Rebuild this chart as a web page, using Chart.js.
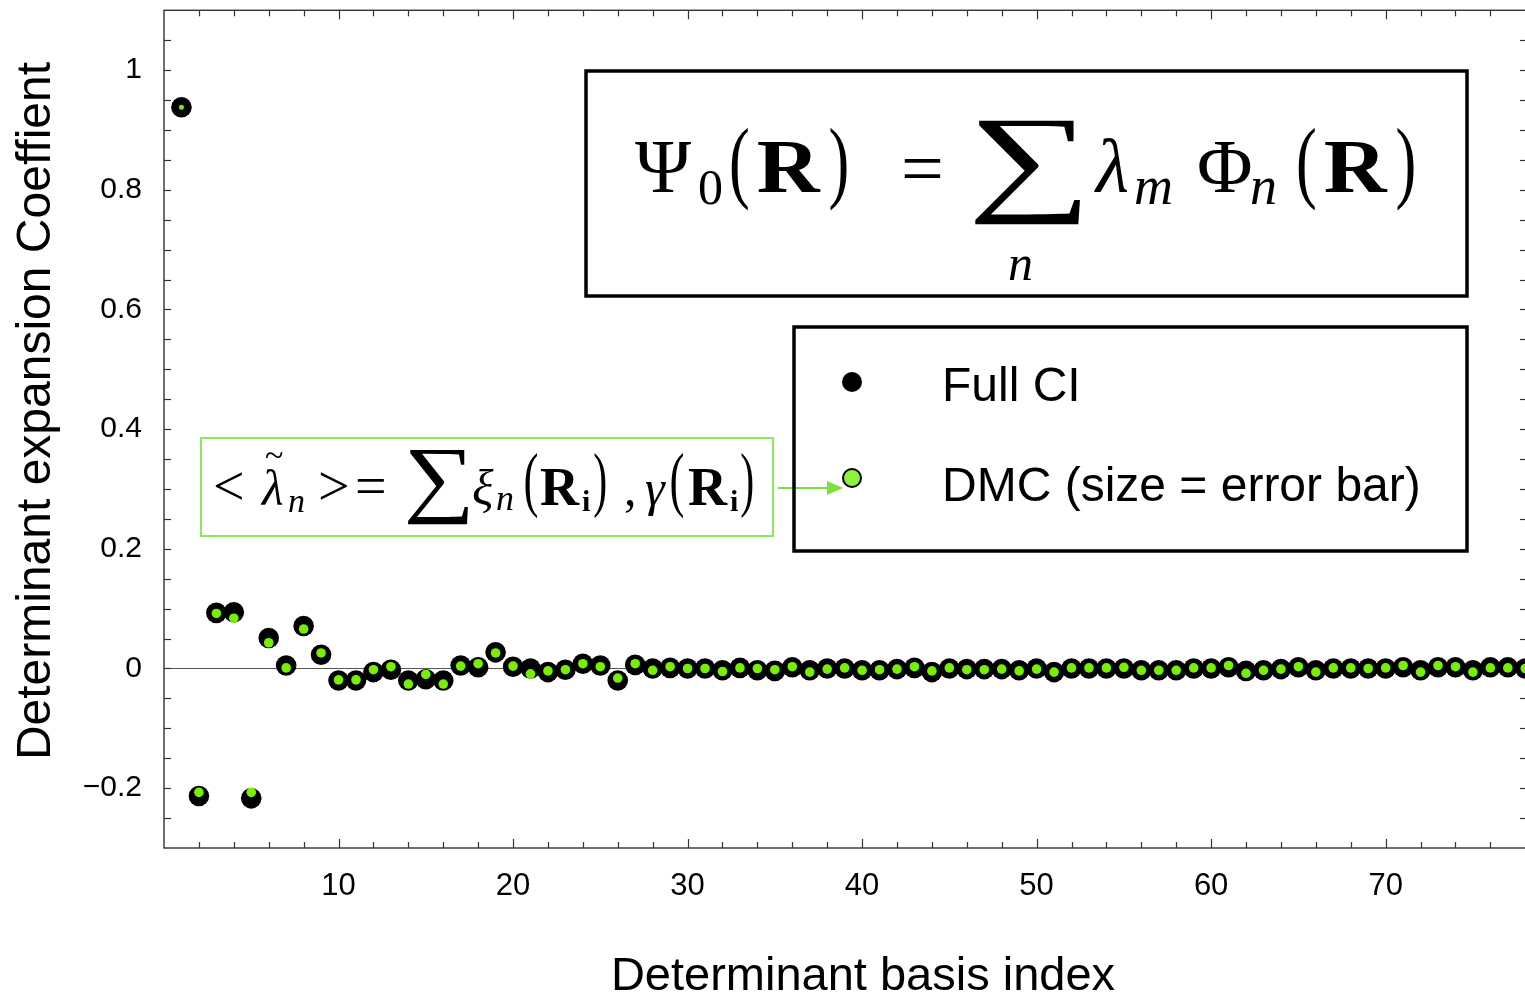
<!DOCTYPE html>
<html>
<head>
<meta charset="utf-8">
<title>Determinant expansion coefficients</title>
<script src="https://cdn.jsdelivr.net/npm/chart.js@4.4.1/dist/chart.umd.min.js"></script>
<style>
  html, body { margin: 0; padding: 0; background: #fff; }
  #wrap { width: 1525px; height: 995px; overflow: hidden; position: relative; }
  canvas { display: block; }
</style>
</head>
<body>
<div id="wrap"><canvas id="coefChart" width="1540" height="995"></canvas></div>
<script>
// === data ===
const basisIndex = [
  1, 2, 3, 4, 5, 6, 7, 8, 9, 10, 11, 12, 13, 14, 15, 16, 17, 18, 19, 20,
  21, 22, 23, 24, 25, 26, 27, 28, 29, 30, 31, 32, 33, 34, 35, 36, 37, 38, 39, 40,
  41, 42, 43, 44, 45, 46, 47, 48, 49, 50, 51, 52, 53, 54, 55, 56, 57, 58, 59, 60,
  61, 62, 63, 64, 65, 66, 67, 68, 69, 70, 71, 72, 73, 74, 75, 76, 77, 78
];

// Full CI coefficients (black)
const fullCI = [
  0.938, -0.213, 0.093, 0.094, -0.217, 0.051, 0.005, 0.071, 0.023, -0.020,
  -0.020, -0.006, -0.002, -0.020, -0.018, -0.020, 0.005, 0.002, 0.027, 0.003,
  0.000, -0.006, -0.002, 0.008, 0.005, -0.020, 0.006, 0.000, 0.001, 0.000,
  0.000, -0.003, 0.001, -0.003, -0.004, 0.002, -0.003, 0.000, 0.000, -0.003,
  -0.003, -0.001, 0.001, -0.006, 0.000, -0.001, -0.001, -0.001, -0.003, 0.000,
  -0.006, 0.000, 0.000, 0.000, 0.000, -0.003, -0.003, -0.003, 0.000, 0.000,
  0.002, -0.004, -0.003, -0.001, 0.002, -0.003, 0.000, 0.000, 0.000, 0.000,
  0.002, -0.003, 0.002, 0.002, -0.003, 0.002, 0.002, 0.000
];

// DMC estimates (green)
const dmc = [
  0.938, -0.207, 0.092, 0.084, -0.207, 0.043, 0.001, 0.066, 0.026, -0.019,
  -0.019, -0.002, 0.003, -0.026, -0.010, -0.026, 0.004, 0.008, 0.026, 0.004,
  -0.009, -0.004, -0.002, 0.008, 0.003, -0.016, 0.008, -0.003, 0.003, 0.000,
  0.000, -0.005, 0.001, 0.000, -0.002, 0.003, -0.006, -0.001, 0.001, -0.003,
  -0.002, -0.001, 0.003, -0.004, 0.001, -0.002, -0.002, -0.001, -0.004, -0.001,
  -0.006, 0.001, 0.001, 0.001, 0.002, -0.003, -0.003, -0.003, 0.001, 0.001,
  0.005, -0.008, -0.003, -0.001, 0.003, -0.006, 0.001, 0.001, 0.000, 0.001,
  0.005, -0.006, 0.005, 0.003, -0.006, 0.001, 0.001, 0.000
];

const xTickLabels = [10, 20, 30, 40, 50, 60, 70];
const yTickLabels = [-0.2, 0, 0.2, 0.4, 0.6, 0.8, 1];

// === helpers ===
const SANS = '"Liberation Sans", Arial, Helvetica, sans-serif';
const SERIF = '"Liberation Serif", "DejaVu Serif", "Times New Roman", serif';
const DMC_GREEN = "#76f000";

function line(ctx, x1, y1, x2, y2, color, width) {
  ctx.beginPath();
  ctx.strokeStyle = color;
  ctx.lineWidth = width;
  ctx.moveTo(x1, y1);
  ctx.lineTo(x2, y2);
  ctx.stroke();
}

function txt(ctx, s, font, x, y, color) {
  ctx.font = font;
  ctx.fillStyle = color || "#000";
  ctx.textAlign = "left";
  ctx.textBaseline = "alphabetic";
  ctx.fillText(s, x, y);
}

// stretch a glyph into a given box (sums, parentheses, bold R)
function fitText(ctx, s, font, x0, y0, x1, y1) {
  ctx.font = font;
  ctx.textAlign = "left";
  ctx.textBaseline = "alphabetic";
  const m = ctx.measureText(s);
  const w = m.actualBoundingBoxLeft + m.actualBoundingBoxRight;
  const h = m.actualBoundingBoxAscent + m.actualBoundingBoxDescent;
  ctx.save();
  ctx.translate(x0, y0);
  ctx.scale((x1 - x0) / w, (y1 - y0) / h);
  ctx.fillStyle = "#000";
  ctx.fillText(s, m.actualBoundingBoxLeft, m.actualBoundingBoxAscent);
  ctx.restore();
}

function isLabel(list, v) {
  return list.find((l) => Math.abs(l - v) < 1e-6);
}

// === frame, inward ticks, zero line ===
const framePlugin = {
  id: "frame",
  beforeDatasetsDraw(chart) {
    const { ctx, chartArea: a, scales } = chart;
    const x = scales.x, y = scales.y;
    ctx.save();
    const y0 = y.getPixelForValue(0);
    line(ctx, a.left, y0, a.right, y0, "#555", 1.2);

    x.ticks.forEach((t) => {
      const v = t.value;
      if (v <= 0.01 || v > 78.01 || Math.abs(v - Math.round(v)) > 1e-6) return;
      const px = Math.round(x.getPixelForValue(v)) + 0.5;
      const len = v % 10 === 0 ? 9 : 6;
      line(ctx, px, a.bottom, px, a.bottom - len, "#333", 1.2);
      line(ctx, px, a.top, px, a.top + len, "#333", 1.2);
    });
    y.ticks.forEach((t) => {
      const v = t.value;
      if (v < -0.299 || v > 1.099) return;
      const py = Math.round(y.getPixelForValue(v)) + 0.5;
      line(ctx, a.left, py, a.left + 7, py, "#333", 1.2);
      line(ctx, a.right, py, a.right - 7, py, "#333", 1.2);
    });

    ctx.strokeStyle = "#333";
    ctx.lineWidth = 1.4;
    ctx.strokeRect(a.left, a.top, a.right - a.left, a.bottom - a.top);
    ctx.restore();
  },
};

// === boxes, formulas, legend, axis titles ===
const annotationPlugin = {
  id: "annotations",
  afterDraw(chart) {
    const ctx = chart.ctx;
    ctx.save();

    // axis titles
    ctx.fillStyle = "#000";
    ctx.font = "47px " + SANS;
    ctx.textAlign = "center";
    ctx.textBaseline = "alphabetic";
    ctx.fillText("Determinant basis index", 863, 990);
    ctx.save();
    ctx.translate(50, 411);
    ctx.rotate(-Math.PI / 2);
    ctx.font = "48px " + SANS;
    ctx.fillText("Determinant expansion Coeffient", 0, 0);
    ctx.restore();

    // wave-function formula box
    ctx.strokeStyle = "#000";
    ctx.lineWidth = 3.5;
    ctx.strokeRect(586, 71, 881, 225);
    txt(ctx, "Ψ", "76px " + SERIF, 635, 192);
    txt(ctx, "0", "50px " + SERIF, 698, 204);
    fitText(ctx, "(", "88px " + SERIF, 731, 127, 748, 210);
    fitText(ctx, "R", "bold 76px " + SERIF, 758, 142, 821, 192);
    fitText(ctx, ")", "88px " + SERIF, 830, 127, 847, 210);
    txt(ctx, "=", "76px " + SERIF, 901, 194);
    fitText(ctx, "∑", "120px " + SERIF, 975, 120, 1080, 225);
    txt(ctx, "n", "italic 50px " + SERIF, 1008, 280);
    txt(ctx, "λ", "italic 76px " + SERIF, 1096, 192);
    txt(ctx, "m", "italic 54px " + SERIF, 1134, 204);
    txt(ctx, "Φ", "76px " + SERIF, 1197, 192);
    txt(ctx, "n", "italic 54px " + SERIF, 1250, 204);
    fitText(ctx, "(", "88px " + SERIF, 1298, 127, 1315, 210);
    fitText(ctx, "R", "bold 76px " + SERIF, 1325, 142, 1388, 192);
    fitText(ctx, ")", "88px " + SERIF, 1397, 127, 1414, 210);

    // DMC estimator box (green)
    ctx.strokeStyle = "#8fe85a";
    ctx.lineWidth = 2;
    ctx.strokeRect(201, 438, 572, 98);
    txt(ctx, "<", "56px " + SERIF, 213, 505);
    txt(ctx, "λ", "italic 50px " + SERIF, 262, 505);
    txt(ctx, "~", "34px " + SERIF, 265, 466);
    txt(ctx, "n", "italic 34px " + SERIF, 288, 512);
    txt(ctx, ">", "56px " + SERIF, 318, 505);
    txt(ctx, "=", "56px " + SERIF, 355, 505);
    fitText(ctx, "∑", "90px " + SERIF, 408, 450, 468, 525);
    txt(ctx, "ξ", "italic 50px " + SERIF, 472, 505);
    txt(ctx, "n", "italic 36px " + SERIF, 496, 510);
    fitText(ctx, "(", "56px " + SERIF, 525, 452, 537, 520);
    fitText(ctx, "R", "bold 50px " + SERIF, 540, 469, 580, 505);
    txt(ctx, "i", "bold 30px " + SERIF, 582, 511);
    fitText(ctx, ")", "56px " + SERIF, 594, 452, 606, 520);
    txt(ctx, ",", "50px " + SERIF, 624, 505);
    txt(ctx, "γ", "italic 50px " + SERIF, 645, 505);
    fitText(ctx, "(", "56px " + SERIF, 671, 452, 683, 520);
    fitText(ctx, "R", "bold 50px " + SERIF, 688, 469, 728, 505);
    txt(ctx, "i", "bold 30px " + SERIF, 730, 511);
    fitText(ctx, ")", "56px " + SERIF, 741, 452, 753, 520);

    // arrow to legend marker
    line(ctx, 778, 488, 832, 488, "#7be03a", 2);
    ctx.beginPath();
    ctx.fillStyle = "#7be03a";
    ctx.moveTo(843, 488);
    ctx.lineTo(827, 481);
    ctx.lineTo(827, 495);
    ctx.closePath();
    ctx.fill();

    // legend
    ctx.strokeStyle = "#000";
    ctx.lineWidth = 3.5;
    ctx.strokeRect(794, 327, 673, 224);
    const ds = chart.data.datasets;
    ctx.beginPath();
    ctx.fillStyle = ds[1].backgroundColor;
    ctx.arc(852, 382, 10, 0, Math.PI * 2);
    ctx.fill();
    ctx.beginPath();
    ctx.fillStyle = "#8cf23c";
    ctx.strokeStyle = "#000";
    ctx.lineWidth = 2;
    ctx.arc(852, 478, 9, 0, Math.PI * 2);
    ctx.fill();
    ctx.stroke();
    txt(ctx, ds[1].label, "48px " + SANS, 942, 401);
    txt(ctx, ds[0].label, "48px " + SANS, 942, 501);

    ctx.restore();
  },
};

// === chart ===
const ctx = document.getElementById("coefChart").getContext("2d");

new Chart(ctx, {
  type: "scatter",
  data: {
    datasets: [
      {
        label: "DMC (size = error bar)",
        data: basisIndex.map((n, i) => ({ x: n, y: dmc[i] })),
        backgroundColor: DMC_GREEN,
        borderWidth: 0,
        pointRadius: (c) => (c.dataIndex === 0 ? 2.5 : 4.8),
        order: 0,
      },
      {
        label: "Full CI",
        data: basisIndex.map((n, i) => ({ x: n, y: fullCI[i] })),
        backgroundColor: "#000",
        borderWidth: 0,
        pointRadius: 10.3,
        order: 1,
      },
    ],
  },
  options: {
    responsive: false,
    animation: false,
    layout: { padding: { top: 7, right: 13, left: 0, bottom: 0 } },
    plugins: {
      legend: { display: false },
      tooltip: { enabled: false },
    },
    scales: {
      x: {
        type: "linear",
        min: 0,
        max: 78.1,
        afterFit: (s) => {
          s.height = 147;
          s.paddingLeft = 0;
          s.paddingRight = 0;
        },
        grid: { display: false, drawTicks: false },
        border: { display: false },
        ticks: {
          stepSize: 2,
          autoSkip: false,
          maxRotation: 0,
          padding: 20,
          color: "#000",
          font: { family: SANS, size: 31 },
          callback: (v) => (isLabel(xTickLabels, v) ? String(Math.round(v)) : ""),
        },
      },
      y: {
        type: "linear",
        min: -0.3,
        max: 1.1,
        afterFit: (s) => {
          s.width = 164;
          s.paddingTop = 0;
          s.paddingBottom = 0;
        },
        grid: { display: false, drawTicks: false },
        border: { display: false },
        ticks: {
          stepSize: 0.05,
          autoSkip: false,
          padding: 22,
          color: "#000",
          font: { family: SANS, size: 30 },
          callback: (v) => {
            const l = isLabel(yTickLabels, v);
            if (l === undefined) return "";
            return l < 0 ? "\u2212" + Math.abs(l) : String(l);
          },
        },
      },
    },
  },
  plugins: [framePlugin, annotationPlugin],
});
</script>
</body>
</html>
